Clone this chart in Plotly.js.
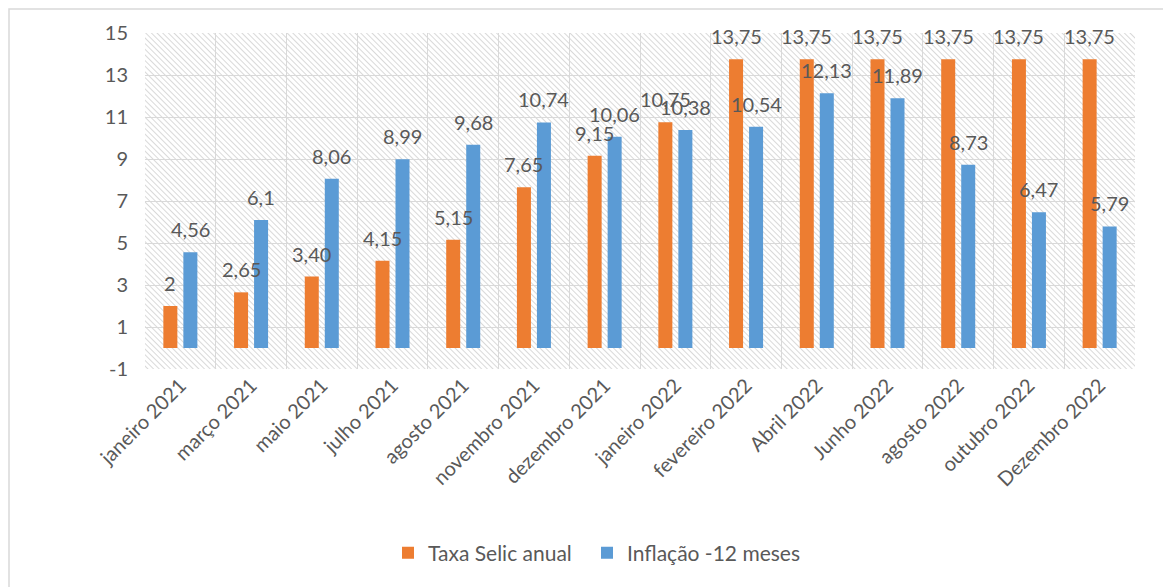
<!DOCTYPE html>
<html>
<head>
<meta charset="utf-8">
<script src="https://cdn.plot.ly/plotly-3.0.1.min.js"></script>
<style>
html,body{margin:0;padding:0;background:#fff;}
#chart{width:1163px;height:587px;}
</style>
</head>
<body>
<div id="chart"></div>
<script>
const categories = ["janeiro 2021","março 2021","maio 2021","julho 2021","agosto 2021","novembro 2021","dezembro 2021","janeiro 2022","fevereiro 2022","Abril 2022","Junho 2022","agosto 2022","outubro 2022","Dezembro 2022"];
const selic = [2, 2.65, 3.40, 4.15, 5.15, 7.65, 9.15, 10.75, 13.75, 13.75, 13.75, 13.75, 13.75, 13.75];
const selicLabels = ["2","2,65","3,40","4,15","5,15","7,65","9,15","10,75","13,75","13,75","13,75","13,75","13,75","13,75"];
const inflacao = [4.56, 6.1, 8.06, 8.99, 9.68, 10.74, 10.06, 10.38, 10.54, 12.13, 11.89, 8.73, 6.47, 5.79];
const inflacaoLabels = ["4,56","6,1","8,06","8,99","9,68","10,74","10,06","10,38","10,54","12,13","11,89","8,73","6,47","5,79"];
const yTicks = [-1, 1, 3, 5, 7, 9, 11, 13, 15];

const FONT = "Lato, 'Open Sans', sans-serif";
const TXT = "#595959";

const W = 1163, H = 587, ML = 145, MR = 28, MT = 33, MB = 218;
const PW = W - ML - MR, PH = H - MT - MB;

const hatch = '<svg xmlns="http://www.w3.org/2000/svg" width="' + PW + '" height="' + PH + '">' +
  '<defs><pattern id="p" width="4" height="4" patternUnits="userSpaceOnUse" patternTransform="rotate(-45)">' +
  '<line x1="0" y1="0" x2="0" y2="4" stroke="#cfcfcf" stroke-width="1.6"/></pattern></defs>' +
  '<rect width="100%" height="100%" fill="#ffffff"/><rect width="100%" height="100%" fill="url(#p)"/></svg>';
const hatchURI = "data:image/svg+xml;base64," + btoa(hatch);

const traces = [
  {
    type: "bar", name: "Taxa Selic anual", x: categories, y: selic,
    marker: {color: "#ED7D31"}, hoverinfo: "none", legend: "legend"
  },
  {
    type: "bar", name: "Inflação -12 meses", x: categories, y: inflacao,
    marker: {color: "#5B9BD5"}, hoverinfo: "none", legend: "legend2"
  }
];

// data labels as annotations (drawn above every bar, like the reference)
const BARSHIFT = 10;   // px offset of each bar centre from category centre
const LABELSHIFT = 23; // px from bar top to label centre
const annotations = [];
categories.forEach((c, i) => {
  annotations.push({x: c, y: selic[i], text: selicLabels[i], xref: "x", yref: "y",
    showarrow: false, xshift: -BARSHIFT, yshift: LABELSHIFT, yanchor: "middle", xanchor: "center",
    font: {family: FONT, size: 20, color: TXT}});
  annotations.push({x: c, y: inflacao[i], text: inflacaoLabels[i], xref: "x", yref: "y",
    showarrow: false, xshift: BARSHIFT, yshift: LABELSHIFT, yanchor: "middle", xanchor: "center",
    font: {family: FONT, size: 20, color: TXT}});
});

const px = v => (v - ML) / PW;
const py = v => (H - MB - v) / PH;

const legendBase = {
  orientation: "h", xanchor: "left", y: py(553), yanchor: "middle",
  font: {family: FONT, size: 21, color: TXT}, itemclick: false, itemwidth: 30
};

const layout = {
  width: W, height: H,
  margin: {l: ML, r: MR, t: MT, b: MB, pad: 0},
  paper_bgcolor: "#ffffff",
  plot_bgcolor: "rgba(0,0,0,0)",
  font: {family: FONT, color: TXT, size: 20},
  barmode: "group", bargap: 0.434, bargroupgap: 0.3,
  xaxis: {
    type: "category", tickangle: -45, tickson: "boundaries", ticks: "",
    showgrid: true, gridcolor: "#d9d9d9", gridwidth: 1,
    tickfont: {family: FONT, size: 20, color: TXT},
    showline: false, zeroline: false, automargin: false
  },
  yaxis: {
    range: [-1, 15], tickvals: yTicks, ticktext: yTicks.map(String),
    showgrid: true, gridcolor: "#d9d9d9", gridwidth: 1,
    zeroline: false, showline: false, ticks: "", ticklen: 0,
    ticklabelstandoff: 16,
    tickfont: {family: FONT, size: 20, color: TXT},
    automargin: false
  },
  annotations: annotations,
  images: [{
    source: hatchURI, xref: "paper", yref: "paper", x: 0, y: 1,
    sizex: 1, sizey: 1, sizing: "stretch", layer: "below",
    xanchor: "left", yanchor: "top"
  }],
  shapes: [{
    type: "rect", xref: "paper", yref: "paper",
    x0: px(9), x1: px(1200), y0: py(640), y1: py(9),
    line: {color: "#d9d9d9", width: 1.5}, fillcolor: "rgba(0,0,0,0)", layer: "below"
  }],
  legend: Object.assign({}, legendBase, {x: px(388)}),
  legend2: Object.assign({}, legendBase, {x: px(587)}),
  showlegend: true
};

Plotly.newPlot("chart", traces, layout, {displayModeBar: false, staticPlot: true});
</script>
</body>
</html>
